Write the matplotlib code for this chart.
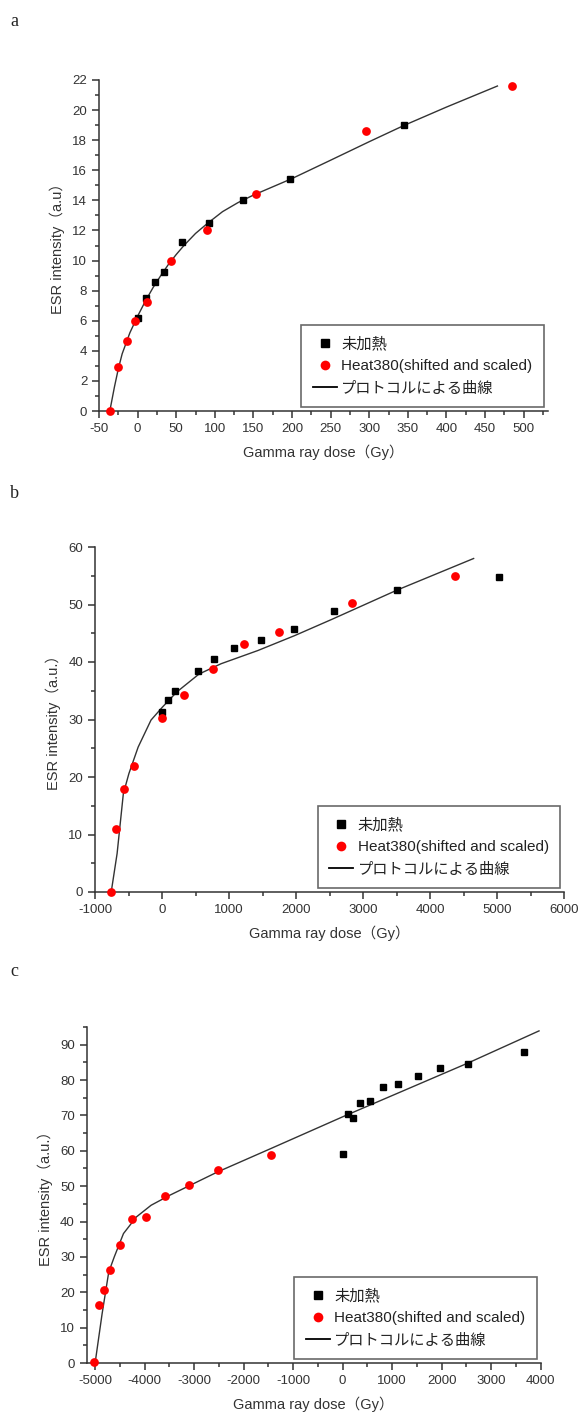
import matplotlib
matplotlib.use('Agg')
import matplotlib.pyplot as plt
from matplotlib.lines import Line2D
from matplotlib.ticker import MultipleLocator

plt.rcParams['font.family'] = ['Liberation Sans', 'Noto Sans CJK JP', 'DejaVu Sans']
plt.rcParams['axes.unicode_minus'] = False

# ---- panel a ----
a_black_x = [0, 11, 22.5, 34.5, 57, 92, 137, 197, 345]
a_black_y = [6.21, 7.5, 8.58, 9.25, 11.2, 12.49, 14.04, 15.41, 18.98]
a_red_x = [-35.6, -25, -13.7, -4, 11.6, 43, 90.4, 153.4, 295.7, 484.8]
a_red_y = [0, 2.9, 4.63, 5.97, 7.25, 10.0, 12.0, 14.39, 18.63, 21.62]
a_curve_x = [-36, -30, -25, -20, -10, 0, 10, 20, 30, 40, 50, 60, 75, 90, 110, 130,
             150, 175, 200, 250, 300, 345, 400, 466]
a_curve_y = [0, 1.6, 2.8, 3.8, 5.2, 6.3, 7.3, 8.2, 9.0, 9.75, 10.4, 11.0, 11.8, 12.45,
             13.25, 13.85, 14.35, 14.9, 15.45, 16.67, 17.9, 18.98, 20.2, 21.6]

# ---- panel b ----
b_black_x = [0, 90, 200, 536, 783, 1080, 1476, 1966, 2561, 3507, 5032]
b_black_y = [31.3, 33.4, 34.96, 38.4, 40.6, 42.4, 43.9, 45.7, 48.9, 52.6, 54.8]
b_red_x = [-758, -681, -560, -422, 2, 332, 756, 1224, 1747, 2831, 4372]
b_red_y = [0, 10.96, 17.86, 21.97, 30.26, 34.3, 38.8, 43.2, 45.2, 50.2, 54.96]
b_curve_x = [-758, -670, -577, -494, -356, -164, 2, 222, 552, 882, 1432, 1982,
             2532, 3507, 4651]
b_curve_y = [0, 6.7, 17.1, 20.6, 25.2, 29.9, 32.1, 34.8, 37.9, 39.7, 42.0, 44.6,
             47.4, 52.5, 58.0]

# ---- panel c ----
c_black_x = [0, 104, 209, 358, 559, 812, 1117, 1519, 1973, 2531, 3655]
c_black_y = [59.0, 70.3, 69.4, 73.4, 74.0, 78.0, 78.8, 81.1, 83.5, 84.6, 87.8]
c_red_x = [-5020, -4931, -4827, -4693, -4500, -4254, -3971, -3584, -3100, -2527, -1455]
c_red_y = [0.2, 16.3, 20.5, 26.4, 33.3, 40.6, 41.3, 47.2, 50.2, 54.5, 58.7]
c_curve_x = [-5000, -4859, -4725, -4613, -4427, -4166, -3869, -3496, -2529, -1455,
             0, 2531, 3968]
c_curve_y = [0, 13.9, 25.7, 30.0, 36.6, 41.3, 44.6, 47.4, 54.0, 60.6, 69.6, 84.8, 93.9]

label_black = '未加熱'
label_red = 'Heat380(shifted and scaled)'
label_line = 'プロトコルによる曲線'

TXT = '#333333'


def make_panel(fig, rect, letter, letter_y, bx, by, rx, ry, cx, cy,
               xlim, ylim, xmaj, xmin, ymaj, ymin, ylabel):
    ax = fig.add_axes(rect)
    ax.plot(cx, cy, color='#333333', lw=1.0, zorder=2)
    ax.plot(bx, by, 's', color='black', ms=5, zorder=3, clip_on=False)
    ax.plot(rx, ry, 'o', color='red', ms=6.3, mec='none', zorder=3, clip_on=False)
    ax.set_xlim(*xlim)
    ax.set_ylim(*ylim)
    ax.xaxis.set_major_locator(MultipleLocator(xmaj))
    ax.xaxis.set_minor_locator(MultipleLocator(xmin))
    ax.yaxis.set_major_locator(MultipleLocator(ymaj))
    ax.yaxis.set_minor_locator(MultipleLocator(ymin))
    for s in ['top', 'right']:
        ax.spines[s].set_visible(False)
    for s in ['left', 'bottom']:
        ax.spines[s].set_color(TXT)
        ax.spines[s].set_linewidth(1.1)
    ax.tick_params(which='major', direction='out', length=5, width=1.1, colors=TXT,
                   labelsize=9.5, labelcolor=TXT, pad=3.5)
    ax.tick_params(which='minor', direction='out', length=3, width=1.1, colors=TXT)
    ax.set_xlabel('Gamma ray dose（Gy）', fontsize=10.5, color=TXT, labelpad=7)
    ax.set_ylabel(ylabel, fontsize=10.5, color=TXT, labelpad=5)

    handles = [
        Line2D([], [], ls='none', marker='s', color='black', ms=5.5),
        Line2D([], [], ls='none', marker='o', color='red', ms=7, mec='none'),
        Line2D([], [], color='black', lw=1.3),
    ]
    leg = ax.legend(handles, [label_black, label_red, label_line], loc='lower right',
                    fontsize=11, frameon=True, fancybox=False, borderaxespad=0.25,
                    handlelength=1.55, handletextpad=0.3, labelspacing=0.55,
                    borderpad=0.75)
    leg.get_frame().set_edgecolor('#444444')
    leg.get_frame().set_linewidth(1.2)
    for t in leg.get_texts():
        t.set_color('#222222')

    fig.text(10 / 578, 1 - letter_y / 1414, letter, fontsize=13, color='#222222',
             family=['Liberation Serif', 'DejaVu Serif'], va='center', ha='left')
    return ax


def main():
    fig = plt.figure(figsize=(5.78, 14.14), dpi=100)

    make_panel(fig, [99 / 578, 1 - 411 / 1414, 448.6 / 578, 331 / 1414], 'a', 21,
               a_black_x, a_black_y, a_red_x, a_red_y, a_curve_x, a_curve_y,
               (-50, 531), (0, 22), 50, 25, 2, 1, 'ESR intensity（a.u）')
    make_panel(fig, [95 / 578, 1 - 892 / 1414, 469 / 578, 345 / 1414], 'b', 494,
               b_black_x, b_black_y, b_red_x, b_red_y, b_curve_x, b_curve_y,
               (-1000, 6000), (0, 60), 1000, 500, 10, 5, 'ESR intensity（a.u.）')
    make_panel(fig, [86.6 / 578, 1 - 1363 / 1414, 454 / 578, 336 / 1414], 'c', 971,
               c_black_x, c_black_y, c_red_x, c_red_y, c_curve_x, c_curve_y,
               (-5172, 4000), (0, 95), 1000, 500, 10, 5, 'ESR intensity（a.u.）')

    fig.savefig('out.png', dpi=100)


if __name__ == "__main__":
    main()
